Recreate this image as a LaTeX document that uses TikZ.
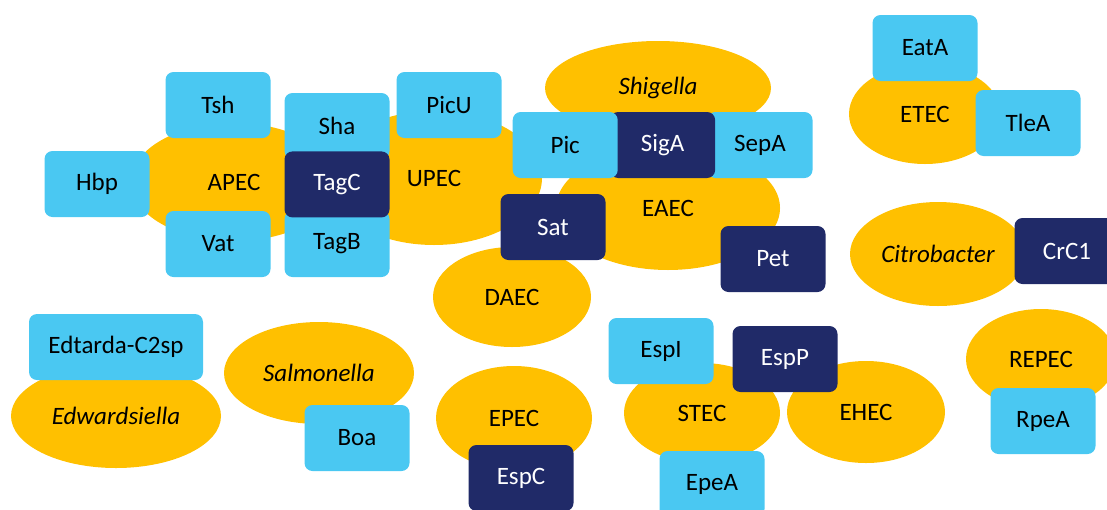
\documentclass[tikz,border=0pt]{standalone}
\usepackage{fontspec}
\setmainfont{Carlito}
\usepackage{tikz}
\usetikzlibrary{shapes.geometric,positioning}
\definecolor{amber}{HTML}{FFC000}
\definecolor{skyblue}{HTML}{4AC8F2}
\definecolor{navyblue}{HTML}{202A68}

\begin{document}
\begin{tikzpicture}[
      x=1pt, y=-1pt,
      nodes={font=\fontsize{25}{29}\selectfont, inner sep=0pt},
      host/.style={ellipse, fill=amber},
      prot/.style={rounded corners=8pt, fill=skyblue,
        minimum width=105pt, minimum height=66pt},
      protd/.style={prot, fill=navyblue, text=white}
      ]
      \useasboundingbox (0,0) rectangle (1107,509);

      % pathotypes and genera
      \node[host, minimum width=206pt, minimum height=118pt] (apec) at (234,182) {APEC};
      \node[host, minimum width=216pt, minimum height=134pt] (upec) at (434,178) {UPEC};
      \node[host, minimum width=226pt, minimum height=94pt]  (shig) at (658,88) {\itshape Shigella};
      \node[host, minimum width=224pt, minimum height=124pt] (eaec) at (668,208) {EAEC};
      \node[host, minimum width=158pt, minimum height=100pt] (daec) at (512,297) {DAEC};
      \node[host, minimum width=152pt, minimum height=100pt] (etec) at (925,114) {ETEC};
      \node[host, minimum width=176pt, minimum height=104pt] (citro) at (938,254) {\itshape Citrobacter};
      \node[host, minimum width=210pt, minimum height=104pt] (edw) at (116,416) {\itshape Edwardsiella};
      \node[host, minimum width=190pt, minimum height=102pt] (salm) at (319,373) {\itshape Salmonella};
      \node[host, minimum width=156pt, minimum height=104pt] (epec) at (514,418) {EPEC};
      \node[host, minimum width=156pt, minimum height=100pt] (stec) at (702,413) {STEC};
      \node[host, minimum width=158pt, minimum height=102pt] (ehec) at (866,412) {EHEC};
      \node[host, minimum width=150pt, minimum height=100pt] (repec) at (1041,359) {REPEC};

      % autotransporters
      \node[prot]  (tsh)  at (218,105) {Tsh};
      \node[prot]  (hbp)  at (97,184)  {Hbp};
      \node[prot]  (vat)  at (218,244) {Vat};
      \node[prot]  (sha)  at (337,126) {Sha};
      \node[prot]  (tagb) at (337,244) {TagB};
      \node[protd, below=-8pt of sha] (tagc) {TagC};
      \node[prot]  (picu) at (449,105) {PicU};
      \node[prot]  (sepa) at (760,145) {SepA};
      \node[protd, left=-8pt of sepa] (siga) {SigA};
      \node[prot,  left=-8pt of siga] (pic)  {Pic};
      \node[protd] (sat)  at (553,227) {Sat};
      \node[protd] (pet)  at (773,259) {Pet};
      \node[prot]  (eata) at (925,48)  {EatA};
      \node[prot]  (tlea) at (1028,123) {TleA};
      \node[protd] (crc)  at (1067,251) {CrC1};
      \node[prot, minimum width=174pt] (edt) at (116,347) {Edtarda-C2sp};
      \node[prot]  (boa)  at (357,438) {Boa};
      \node[protd] (espc) at (521,478) {EspC};
      \node[prot]  (espi) at (661,351) {EspI};
      \node[protd] (espp) at (785,359) {EspP};
      \node[prot]  (epea) at (712,484) {EpeA};
      \node[prot]  (rpea) at (1043,421) {RpeA};

\end{tikzpicture}
\end{document}
